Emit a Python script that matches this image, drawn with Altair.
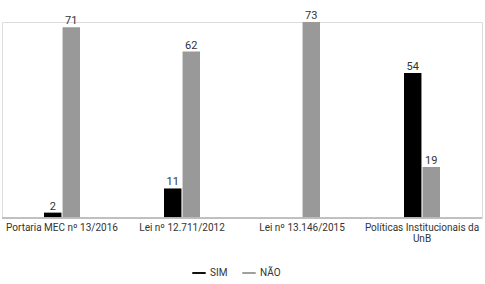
import altair as alt
import pandas as pd

categories = ["Portaria MEC nº 13/2016", "Lei nº 12.711/2012", "Lei nº 13.146/2015", "Políticas Institucionais da UnB"]
category_labels = ["Portaria MEC nº 13/2016", "Lei nº 12.711/2012", "Lei nº 13.146/2015", "Políticas Institucionais da\nUnB"]
series = ["SIM", "NÃO"]
sim_values = [2, 11, None, 54]
nao_values = [71, 62, 73, 19]
colors = ["#000000", "#999999"]

rows = []
for c, s, n in zip(categories, sim_values, nao_values):
    if s is not None:
        rows.append({"cat": c, "serie": "SIM", "valor": s})
    rows.append({"cat": c, "serie": "NÃO", "valor": n})
df = pd.DataFrame(rows)
cat_df = pd.DataFrame({"cat": categories, "rotulo": category_labels})

font = "Roboto"

xscale = alt.Scale(domain=categories, paddingInner=0.7, paddingOuter=0.35)
x = alt.X("cat:N", sort=categories, title=None, scale=xscale, axis=None)
xo = alt.XOffset("serie:N", sort=series, scale=alt.Scale(domain=series, paddingInner=0.06))
yscale = alt.Scale(domain=[0, 73], nice=False, zero=True)
y = alt.Y("valor:Q", axis=None, scale=yscale)

base = alt.Chart(df).encode(x=x, xOffset=xo, y=y)

bars = base.mark_bar(strokeWidth=0).encode(
    color=alt.Color("serie:N", sort=series, scale=alt.Scale(domain=series, range=colors),
                    legend=alt.Legend(title=None, orient="none", legendX=190, legendY=244,
                                      direction="horizontal", symbolType="M-1,-0.14H1V0.14H-1Z",
                                      symbolSize=180, symbolStrokeWidth=0, labelFont=font, labelFontSize=10,
                                      labelColor="#333333", columnPadding=14))
)
labels = base.mark_text(dy=-6, fontSize=11, font=font, color="#333333").encode(text="valor:Q")

baseline = alt.Chart(cat_df).mark_rule(color="#bdbdbd", strokeWidth=1).encode(
    x=alt.value(0), x2=alt.value(480), y=alt.datum(0, scale=yscale) if False else alt.value(196))

cat_text = alt.Chart(cat_df).mark_text(fontSize=10, font=font, color="#333333", baseline="top",
                                       lineBreak="\n", dy=5, lineHeight=11).encode(
    x=alt.X("cat:N", sort=categories, scale=xscale, axis=None),
    y=alt.value(196),
    text="rotulo:N")

chart = (bars + labels + baseline + cat_text).properties(
    width=480, height=196,
    autosize=alt.AutoSizeParams(type="none"),
    padding={"left": 2, "top": 22, "right": 3, "bottom": 66},
).configure_view(stroke=None, fill="white").configure(background="white")

chart.save("out.html", embed_options={"renderer": "svg", "actions": False})
